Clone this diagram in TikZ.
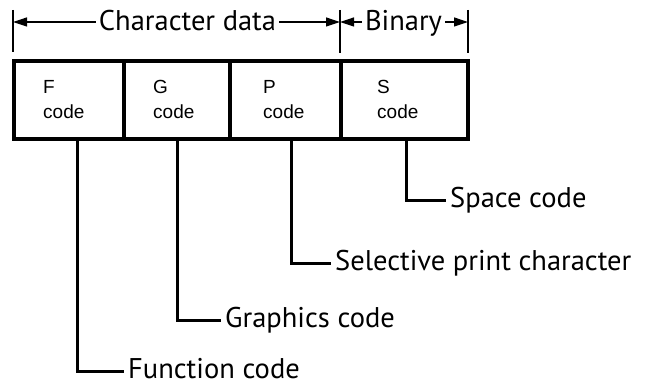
\documentclass[tikz,border=0pt]{standalone}
\usepackage{fontspec}
\setmainfont{Liberation Sans}
\newfontfamily\labfont{PT Sans}
\usetikzlibrary{arrows.meta}
\begin{document}
\begin{tikzpicture}[x=1pt,y=-1pt,
  cell/.style={draw, line width=4pt, minimum height=77.5pt, inner sep=0pt, outer sep=0pt, anchor=north west},
  celltext/.style={anchor=north west, align=left, inner sep=0pt, font=\fontsize{19}{25}\selectfont},
  lab/.style={anchor=west, inner xsep=4pt, inner ysep=0pt, text height=14pt, text depth=0pt, font=\labfont\fontsize{28.5}{32}\selectfont},
  dimtext/.style={inner xsep=3pt, inner ysep=0pt, text height=18pt, text depth=0pt, font=\labfont\fontsize{28.5}{32}\selectfont},
  leader/.style={line width=3pt},
  dim/.style={line width=1.2pt, -{Triangle[length=14pt,width=9pt]}},
  tick/.style={line width=1.2pt}]
\useasboundingbox (0,0) rectangle (645,387);
% cells
\node[cell, minimum width=110pt] (cf) at (14,61.5) {};
\node[cell, minimum width=106pt] (cg) at (124,61.5) {};
\node[cell, minimum width=111pt] (cp) at (230,61.5) {};
\node[cell, minimum width=127pt] (cs) at (341,61.5) {};
\node[celltext] (tf) at ([shift={(29,18.5)}]cf.north west) {F\\code};
\node[celltext] (tg) at ([shift={(29,18.5)}]cg.north west) {G\\code};
\node[celltext] (tp) at ([shift={(33,18.5)}]cp.north west) {P\\code};
\node[celltext] (ts) at ([shift={(36,18.5)}]cs.north west) {S\\code};
% dimension lines
\coordinate (tA) at (13,10);
\coordinate (tB) at (340,10);
\coordinate (tC) at (468,10);
\draw[tick] (tA) -- ++(0,42);
\draw[tick] (tB) -- ++(0,43);
\draw[tick] (tC) -- ++(0,43);
\node[dimtext] (chr) at (187.5,22) {Character data};
\node[dimtext] (bin) at (403.5,22) {Binary};
\draw[dim] (chr.west) -- (chr.west -| tA);
\draw[dim] (chr.east) -- (chr.east -| tB);
\draw[dim] (bin.west) -- (bin.west -| tB);
\draw[dim] (bin.east) -- (bin.east -| tC);
% labels
\node[lab] (lf) at (124,371) {Function code};
\node[lab] (lg) at (221,320) {Graphics code};
\node[lab] (lp) at (331,264) {Selective print character};
\node[lab] (ls) at (446,201) {Space code};
\draw[leader] ([xshift=8pt]cf.south) |- (lf.west);
\draw[leader] (cg.south) |- (lg.west);
\draw[leader] ([xshift=5.5pt]cp.south) |- (lp.west);
\draw[leader] ([xshift=1.5pt]cs.south) |- (ls.west);
\end{tikzpicture}
\end{document}
